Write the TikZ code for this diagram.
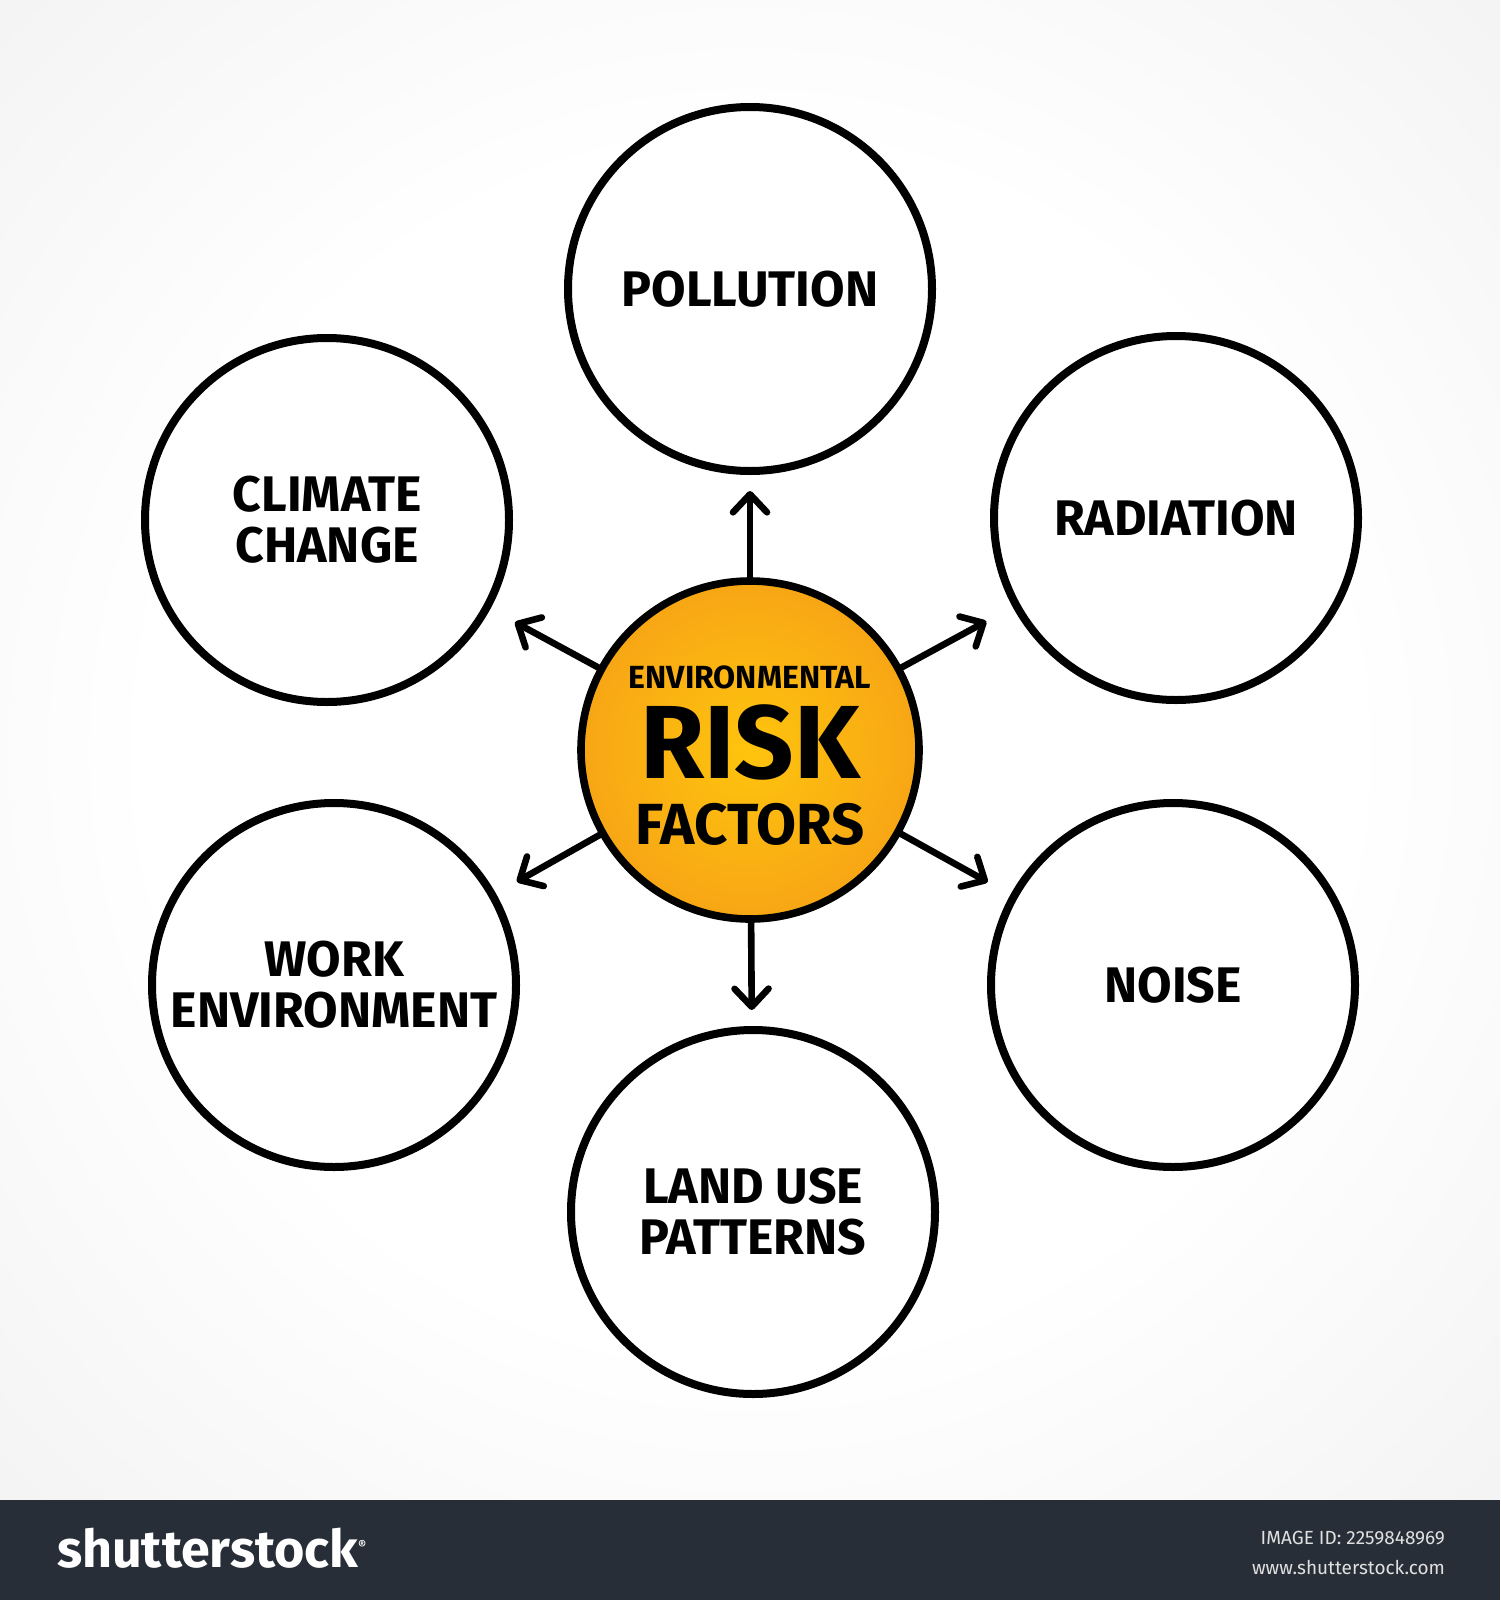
\documentclass[tikz,border=0pt]{standalone}
\usepackage{fontspec}
\setmainfont{Fira Sans}
\usepackage{tikz}
\usetikzlibrary{positioning}
\usetikzlibrary{arrows.meta}
\definecolor{hubinner}{HTML}{FFC40E}
\definecolor{hubouter}{HTML}{EF881B}
\definecolor{bandgray}{HTML}{282E38}
\pgfdeclareradialshading{hubglow}{\pgfpoint{0bp}{0bp}}{color(0bp)=(hubinner); color(50bp)=(hubouter)}
\pgfdeclareradialshading{paperglow}{\pgfpoint{0bp}{0bp}}{color(0bp)=(white); color(20bp)=(white); color(72bp)=(black!15)}
\tikzset{
  bubble/.style={circle, draw, line width=4pt, minimum size=182pt, inner sep=0pt,
    fill=white, align=center, font=\bfseries\fontsize{25}{25.5}\selectfont},
  hub/.style={circle, draw, line width=3.8pt, minimum size=169pt, shading=hubglow},
  spoke/.style={line width=3.3pt, line cap=round, -{Straight Barb[length=9pt, width=17pt, round]}},
  hubword/.style={anchor=base, inner sep=0pt, font=\bfseries\fontsize{#1}{#1}\selectfont}
}

\begin{document}
\begin{tikzpicture}[x=0.5pt, y=-0.5pt]
    \useasboundingbox (0,0) rectangle (1500,1600);
    \shade[shading=paperglow] (0,0) rectangle (1500,1500);
    \fill[bandgray] (0,1500) rectangle (1500,1600);

    \node[hub] (hub) at (750,750) {};
    \node[hubword=16] (environmental) at ([yshift=31pt]hub.center) {ENVIRONMENTAL};
    \node[hubword=52] (risk) at ([yshift=-14pt]hub.center) {RISK};
    \node[hubword=29] (factors) at ([yshift=-47pt]hub.center) {FACTORS};

    \node[bubble] (pollution) at (750,289) {POLLUTION};
    \node[bubble] (climate) at (327,520) {CLIMATE\\CHANGE};
    \node[bubble] (radiation) at (1176,518) {RADIATION};
    \node[bubble] (work) at (334,985) {WORK\\ENVIRONMENT};
    \node[bubble] (noise) at (1173,985) {NOISE};
    \node[bubble] (landuse) at (753,1212) {LAND USE\\PATTERNS};

    \draw[spoke, shorten >=8pt] (hub) -- (pollution);
    \draw[spoke, shorten >=8pt] (hub) -- (landuse);
    \draw[spoke, shorten >=14pt] (hub) -- (climate);
    \draw[spoke, shorten >=15pt] (hub) -- (radiation);
    \draw[spoke, shorten >=12pt] (hub) -- (work);
    \draw[spoke, shorten >=13pt] (hub) -- (noise);

    \node[anchor=west, text=white, font=\bfseries\fontsize{26}{26}\selectfont] (logo) at (50,1548) {shutterstock\textsuperscript{\fontsize{6}{6}\selectfont ®}};
    \node[anchor=east, text=black!12, font=\fontsize{9.5}{9.5}\selectfont] (imageid) at (1452,1538) {IMAGE ID: 2259848969};
    \node[anchor=east, text=black!12, font=\fontsize{9.5}{9.5}\selectfont] (website) at (1452,1567) {www.shutterstock.com};
  \end{tikzpicture}
\end{document}
